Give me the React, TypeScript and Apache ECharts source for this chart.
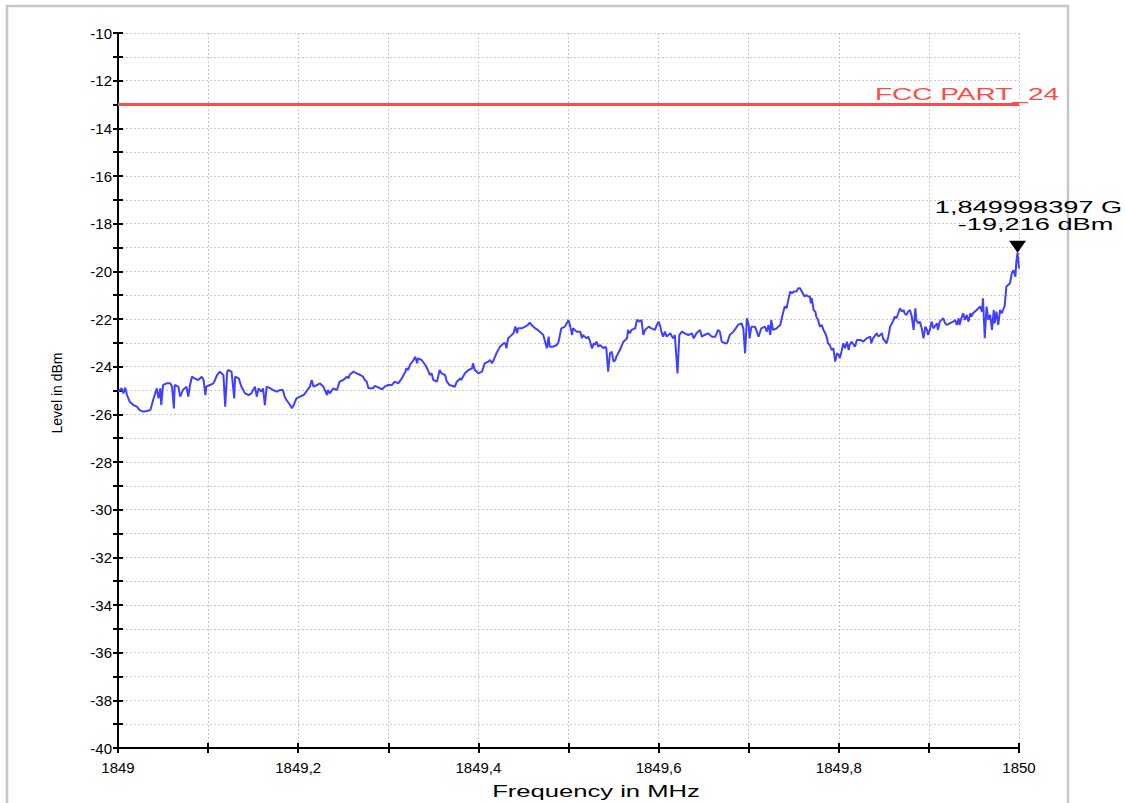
import React, { useEffect, useRef } from "react";
import * as echarts from "echarts";

// Frequency (MHz) of each trace point
const freqMHz = [
  1849.000, 1849.004, 1849.006, 1849.008, 1849.010, 1849.013, 1849.017, 1849.021, 1849.024, 1849.028,
  1849.032, 1849.036, 1849.039, 1849.043, 1849.045, 1849.047, 1849.048, 1849.050, 1849.054, 1849.058,
  1849.060, 1849.062, 1849.063, 1849.067, 1849.069, 1849.072, 1849.076, 1849.078, 1849.080, 1849.082,
  1849.085, 1849.089, 1849.093, 1849.095, 1849.097, 1849.098, 1849.102, 1849.106, 1849.110, 1849.113,
  1849.117, 1849.119, 1849.121, 1849.122, 1849.126, 1849.129, 1849.130, 1849.134, 1849.137, 1849.141,
  1849.145, 1849.148, 1849.152, 1849.154, 1849.156, 1849.159, 1849.161, 1849.163, 1849.165, 1849.169,
  1849.172, 1849.176, 1849.180, 1849.183, 1849.185, 1849.187, 1849.191, 1849.193, 1849.195, 1849.198,
  1849.202, 1849.206, 1849.209, 1849.213, 1849.215, 1849.217, 1849.221, 1849.224, 1849.228, 1849.232,
  1849.233, 1849.235, 1849.239, 1849.243,
  1849.246, 1849.250, 1849.254, 1849.256, 1849.257, 1849.261, 1849.265, 1849.269, 1849.272, 1849.274,
  1849.276, 1849.278, 1849.283, 1849.285, 1849.289, 1849.293, 1849.296, 1849.300, 1849.304, 1849.307,
  1849.311, 1849.315, 1849.319, 1849.320, 1849.322, 1849.324, 1849.328, 1849.330, 1849.332, 1849.333,
  1849.337, 1849.341, 1849.344, 1849.346, 1849.348, 1849.350, 1849.354, 1849.357, 1849.359, 1849.363,
  1849.365, 1849.368, 1849.374, 1849.376, 1849.380, 1849.381, 1849.385, 1849.389, 1849.393, 1849.394,
  1849.396, 1849.400, 1849.404, 1849.407, 1849.411, 1849.413, 1849.415, 1849.417, 1849.420, 1849.424,
  1849.428, 1849.430, 1849.431, 1849.433, 1849.435, 1849.439, 1849.441, 1849.443, 1849.444, 1849.448,
  1849.452, 1849.455, 1849.457, 1849.459, 1849.463, 1849.466, 1849.470, 1849.472, 1849.476, 1849.478,
  1849.479, 1849.483, 1849.487, 1849.489, 1849.492, 1849.496, 1849.500, 1849.502, 1849.504, 1849.505,
  1849.509, 1849.513,
  1849.515, 1849.516, 1849.518, 1849.520, 1849.522, 1849.524, 1849.526, 1849.528, 1849.529, 1849.531,
  1849.533, 1849.535, 1849.537, 1849.539, 1849.541, 1849.542, 1849.544, 1849.546, 1849.548, 1849.550,
  1849.552, 1849.553, 1849.557, 1849.561, 1849.565, 1849.566, 1849.568, 1849.570, 1849.574, 1849.576,
  1849.579, 1849.581, 1849.583, 1849.585, 1849.589, 1849.592, 1849.596, 1849.598, 1849.600, 1849.602,
  1849.603, 1849.605, 1849.607, 1849.609, 1849.613, 1849.615, 1849.616, 1849.618, 1849.621, 1849.623,
  1849.626, 1849.629, 1849.633, 1849.637, 1849.639, 1849.642, 1849.646, 1849.648, 1849.651, 1849.655,
  1849.659, 1849.663, 1849.666, 1849.668, 1849.670, 1849.674, 1849.676, 1849.679, 1849.683, 1849.687,
  1849.688, 1849.692, 1849.694, 1849.696, 1849.698, 1849.700, 1849.701, 1849.703, 1849.707, 1849.711,
  1849.714, 1849.718, 1849.720, 1849.722, 1849.724, 1849.725, 1849.727, 1849.731, 1849.735, 1849.738,
  1849.740, 1849.742,
  1849.746, 1849.748, 1849.750, 1849.753, 1849.755, 1849.757, 1849.759, 1849.761, 1849.762, 1849.764,
  1849.766, 1849.768, 1849.769, 1849.770, 1849.772, 1849.774, 1849.775, 1849.777, 1849.779, 1849.781,
  1849.783, 1849.785, 1849.787, 1849.788, 1849.790, 1849.792, 1849.794, 1849.796, 1849.798, 1849.800,
  1849.801, 1849.803, 1849.805, 1849.807, 1849.809, 1849.811, 1849.812, 1849.814, 1849.818, 1849.820,
  1849.824, 1849.827, 1849.831, 1849.835, 1849.836, 1849.838, 1849.842, 1849.844, 1849.848, 1849.849,
  1849.853, 1849.855, 1849.857, 1849.859, 1849.860, 1849.862, 1849.864, 1849.866, 1849.868, 1849.870,
  1849.872, 1849.873, 1849.875, 1849.877, 1849.879, 1849.881, 1849.883, 1849.885, 1849.886, 1849.888,
  1849.890, 1849.892, 1849.894, 1849.896, 1849.898, 1849.899, 1849.901, 1849.903, 1849.905, 1849.909,
  1849.910, 1849.912, 1849.916, 1849.918, 1849.920, 1849.923, 1849.927, 1849.929, 1849.931, 1849.933,
  1849.934, 1849.936, 1849.938, 1849.940, 1849.942, 1849.944, 1849.946, 1849.947, 1849.949, 1849.953,
  1849.957, 1849.959, 1849.960, 1849.962, 1849.964, 1849.966, 1849.968, 1849.970, 1849.972, 1849.973,
  1849.975, 1849.977, 1849.979, 1849.981, 1849.983, 1849.984, 1849.986, 1849.988, 1849.990, 1849.992,
  1849.994, 1849.996, 1849.997, 1849.998397, 1850.000,
];

// Level (dBm) of each trace point
const levelDbm = [
  -25.05, -24.91, -25.12, -24.88, -25.19, -25.47, -25.61, -25.68, -25.82, -25.89,
  -25.86, -25.82, -25.40, -24.91, -25.33, -24.91, -25.61, -24.77, -24.70, -24.70,
  -24.84, -25.75, -24.77, -24.84, -25.26, -24.98, -24.84, -25.26, -24.77, -24.42,
  -24.49, -24.56, -24.42, -24.56, -25.19, -24.84, -24.77, -24.70, -24.35, -24.21,
  -24.35, -25.68, -24.28, -24.14, -24.21, -25.33, -24.42, -24.49, -24.84, -25.12,
  -25.19, -25.12, -24.84, -25.26, -24.91, -25.05, -24.91, -25.61, -24.84, -24.91,
  -24.98, -25.05, -24.98, -24.98, -25.26, -25.40, -25.61, -25.75, -25.61, -25.33,
  -25.26, -25.19, -25.05, -24.84, -24.56, -24.84, -24.77, -24.70, -24.84, -25.19,
  -24.98, -25.12, -24.91, -24.98,
  -24.63, -24.56, -24.42, -24.49, -24.35, -24.21, -24.28, -24.35, -24.42, -24.56,
  -24.63, -24.91, -24.91, -24.81, -24.87, -24.95, -24.84, -24.77, -24.77, -24.63,
  -24.70, -24.49, -24.21, -24.07, -24.14, -23.93, -23.72, -23.58, -23.86, -23.65,
  -23.72, -23.93, -24.14, -24.35, -24.28, -24.56, -24.63, -24.14, -24.28, -24.35,
  -24.63, -24.77, -24.84, -24.63, -24.49, -24.56, -24.28, -24.14, -24.07, -23.86,
  -24.14, -24.28, -24.21, -23.86, -23.79, -23.72, -23.86, -23.72, -23.44, -23.16,
  -23.02, -23.02, -23.23, -22.81, -22.74, -22.60, -22.32, -22.60, -22.39, -22.39,
  -22.32, -22.25, -22.15, -22.25, -22.39, -22.46, -22.60, -22.67, -23.23, -22.74,
  -23.16, -23.16, -23.09, -22.95, -22.39, -22.32, -22.04, -22.32, -22.67, -22.39,
  -22.53, -22.53,
  -22.81, -22.67, -22.74, -22.81, -22.74, -22.95, -23.23, -23.02, -23.09, -22.95,
  -23.16, -23.09, -23.16, -23.23, -23.16, -23.23, -24.21, -23.44, -23.37, -23.79,
  -23.72, -23.58, -23.30, -22.95, -22.81, -22.46, -22.60, -22.46, -22.39, -22.04,
  -22.11, -22.04, -22.67, -22.46, -22.32, -22.39, -22.46, -22.25, -22.11, -22.32,
  -22.53, -22.74, -22.53, -22.74, -22.60, -22.74, -22.81, -22.67, -24.28, -22.67,
  -22.53, -22.60, -22.67, -22.60, -22.81, -22.60, -22.46, -22.74, -22.67, -22.60,
  -22.74, -22.74, -22.46, -22.53, -22.95, -23.02, -23.02, -22.67, -22.53, -22.32,
  -22.25, -22.18, -22.39, -23.44, -21.97, -22.25, -22.81, -22.32, -22.32, -22.74,
  -22.39, -22.32, -22.53, -22.25, -22.67, -22.04, -22.46, -22.39, -22.25, -21.76,
  -21.48, -21.55,
  -20.85, -20.92, -20.85, -20.85, -20.71, -20.71, -20.85, -20.99, -21.06, -20.99,
  -21.06, -21.06, -21.34, -21.13, -21.62, -21.69, -21.90, -22.04, -22.32, -22.25,
  -22.46, -22.60, -22.81, -23.02, -23.09, -23.30, -23.23, -23.79, -23.44, -23.51,
  -23.65, -23.37, -23.02, -23.23, -22.95, -23.30, -23.09, -22.95, -23.16, -22.88,
  -22.88, -22.95, -22.81, -22.74, -23.02, -22.81, -22.60, -22.74, -22.60, -22.81,
  -23.02, -22.74, -22.32, -22.18, -22.11, -21.90, -21.97, -21.76, -21.55, -21.69,
  -21.62, -21.76, -21.83, -21.69, -21.62, -21.90, -22.46, -21.55, -22.04, -22.18,
  -22.11, -22.39, -22.81, -22.32, -22.46, -22.67, -22.46, -22.11, -22.39, -22.18,
  -22.46, -22.11, -21.97, -22.18, -22.25, -22.18, -22.11, -22.04, -22.25, -21.97,
  -22.25, -21.97, -21.76, -22.04, -21.83, -22.11, -21.76, -21.90, -21.76, -21.62,
  -21.48, -21.69, -21.13, -22.81, -21.48, -22.04, -21.83, -22.46, -21.62, -22.18,
  -21.69, -22.25, -21.62, -21.76, -21.55, -21.48, -20.64, -20.57, -20.50, -20.09,
  -19.95, -20.23, -19.60, -19.216, -19.88,
];

const xMin = 1849;
const xMax = 1850;
const xStep = 0.1;
const yMin = -40;
const yMax = -10;
const yStep = 2;

const limitLevel = -13;
const limitLabel = "FCC PART_24";

const markerFreq = 1849.998397;
const markerLevel = -19.216;
const markerFreqText = "1,849998397 G";
const markerLevelText = "-19,216 dBm";

const xTitle = "Frequency in MHz";
const yTitle = "Level in dBm";

const FONT = "'Liberation Sans', Arial, Helvetica, sans-serif";

export default function App() {
  const ref = useRef<HTMLDivElement | null>(null);

  useEffect(() => {
    if (!ref.current) return;
    const chart = echarts.init(ref.current, undefined, { renderer: "svg" });
    const gridLine = { color: "#c8c8c8", type: [2, 2] as any, width: 1 };
    const axisLineStyle = { color: "#000", width: 2 };
    const tickStyle = { color: "#000", width: 2 };

    const xFormatter = (v: number) => {
      const k = Math.round((v - xMin) / xStep);
      if (k % 2 !== 0) return "";
      const r = Math.round(v * 10) / 10;
      return String(r).replace(".", ",");
    };

    const data = freqMHz.map((f, i) => [f, levelDbm[i]]);

    chart.setOption({
      animation: false,
      backgroundColor: "#ffffff",
      textStyle: { fontFamily: FONT },
      grid: { left: 118, top: 33, width: 901, height: 715, containLabel: false },
      xAxis: [
        {
          type: "value",
          min: xMin,
          max: xMax,
          interval: xStep,
          axisLine: { show: true, onZero: false, lineStyle: axisLineStyle },
          axisTick: { show: true, length: 5, lineStyle: tickStyle },
          axisLabel: {
            formatter: xFormatter,
            margin: 12,
            fontSize: 15,
            color: "#000",
            fontFamily: FONT,
            showMinLabel: true,
            showMaxLabel: true,
          },
          splitLine: { show: true, lineStyle: gridLine },
        },
        {
          type: "value",
          min: xMin,
          max: xMax,
          interval: xStep,
          position: "bottom",
          axisLine: { show: false, onZero: false },
          axisTick: { show: true, inside: true, length: 5, lineStyle: tickStyle },
          axisLabel: { show: false },
          splitLine: { show: false },
        },
      ],
      yAxis: [
        {
          type: "value",
          min: yMin,
          max: yMax,
          interval: yStep,
          axisLine: { show: true, onZero: false, lineStyle: axisLineStyle },
          axisTick: { show: true, length: 5, lineStyle: tickStyle },
          minorTick: { show: true, splitNumber: 2, length: 5, lineStyle: tickStyle },
          axisLabel: {
            formatter: (v: number) => String(v),
            margin: 6,
            fontSize: 15,
            color: "#000",
            fontFamily: FONT,
          },
          splitLine: { show: true, lineStyle: gridLine },
          minorSplitLine: { show: true, lineStyle: gridLine },
        },
        {
          type: "value",
          min: yMin,
          max: yMax,
          interval: yStep,
          position: "left",
          axisLine: { show: false, onZero: false },
          axisTick: { show: true, inside: true, length: 5, lineStyle: tickStyle },
          minorTick: { show: true, splitNumber: 2, length: 5, lineStyle: tickStyle },
          axisLabel: { show: false },
          splitLine: { show: false },
        },
      ],
      series: [
        {
          type: "line",
          xAxisIndex: 0,
          yAxisIndex: 0,
          data,
          symbol: "none",
          lineStyle: { color: "#4040ff", width: 2 },
          z: 3,
          markLine: {
            silent: true,
            symbol: "none",
            label: { show: false },
            lineStyle: { color: "#ff4a4a", width: 3, type: "solid" },
            data: [{ yAxis: limitLevel }],
          },
          markPoint: {
            symbol: "triangle",
            symbolRotate: 180,
            symbolSize: [17, 12],
            symbolOffset: [0, -6],
            itemStyle: { color: "#000" },
            label: { show: false },
            data: [{ coord: [markerFreq, markerLevel] }],
          },
        },
      ],
    });

    const mk = chart.convertToPixel({ gridIndex: 0 }, [markerFreq, markerLevel]) as number[];
    const lim = chart.convertToPixel({ gridIndex: 0 }, [xMax, limitLevel]) as number[];
    const mkText = (text: string, x: number, y: number, size: number, color: string, sx = 1, rot = 0) => ({
      type: "text",
      x,
      y,
      scaleX: sx,
      rotation: rot,
      silent: true,
      z: 10,
      style: {
        text,
        fill: color,
        font: `${size}px ${FONT}`,
        fontSize: size,
        fontFamily: FONT,
        align: "center",
        textAlign: "center",
        verticalAlign: "middle",
        textVerticalAlign: "middle",
      },
    });

    chart.setOption({
      graphic: [
        {
          type: "rect",
          silent: true,
          z: 0,
          shape: { x: 7, y: 6, width: 1061, height: 830 },
          style: { fill: "none", stroke: "#c6c6c6", lineWidth: 2.5 },
        },
        mkText(limitLabel, lim[0] - 52, lim[1] - 10, 16, "#ff4a4a", 1.75),
        mkText(markerFreqText, mk[0] + 11, mk[1] - 45, 16, "#000", 1.7),
        mkText(markerLevelText, mk[0] + 18, mk[1] - 28, 16, "#000", 1.7),
        mkText(xTitle, 596, 792, 16, "#000", 1.6),
        mkText(yTitle, 57, 393, 14, "#000", 1, Math.PI / 2),
      ],
    });

    return () => chart.dispose();
  }, []);

  return (
    <div
      ref={ref}
      style={{ position: "absolute", left: 0, top: 0, width: 1125, height: 803, background: "#fff" }}
    />
  );
}
